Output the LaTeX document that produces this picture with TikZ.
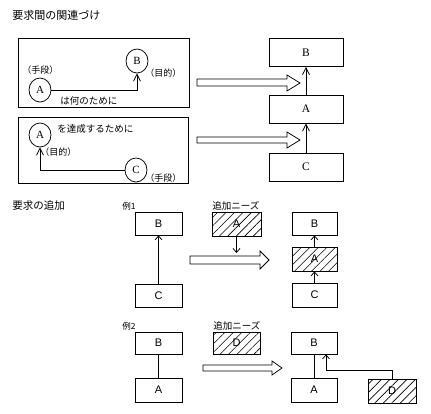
\documentclass[tikz,border=0pt]{standalone}
\usepackage{fontspec}
\setmainfont{Liberation Sans}
\newfontfamily\jp{Noto Sans CJK JP}
\newfontfamily\serifl{Liberation Serif}
\usetikzlibrary{arrows.meta,shapes.geometric,patterns.meta}
\begin{document}
\begin{tikzpicture}[x=1pt,y=-1pt,line width=0.75pt,
  circ/.style={draw,ellipse,minimum width=22pt,minimum height=24pt,inner sep=0pt,font=\serifl\fontsize{11}{11}\selectfont},
  rbox/.style={draw,minimum width=74pt,minimum height=28pt,inner sep=0pt,font=\serifl\fontsize{11.5}{11.5}\selectfont},
  sbox/.style={draw,minimum width=47pt,minimum height=23pt,inner sep=0pt,font=\fontsize{11}{11}\selectfont},
  hatch/.style={sbox,pattern={Lines[angle=45,distance=6pt,line width=0.6pt]}},
  jtext/.style={inner sep=0pt,anchor=west,font=\jp\fontsize{9.5}{11}\selectfont},
  jhead/.style={inner sep=0pt,anchor=west,font=\jp\fontsize{11}{12}\selectfont},
  jsmall/.style={inner sep=0pt,anchor=west,font=\jp\fontsize{9}{10}\selectfont},
  arr/.style={-{Straight Barb[length=7pt,width=7pt]}},
  sarr/.style={-{Straight Barb[length=4pt,width=7pt]}},
  hollow/.style={draw,fill=white,line width=0.75pt}]
\useasboundingbox (0,0) rectangle (431,413);

% ---------- top section ----------
\node[jhead] (title1) at (12,15) {要求間の関連づけ};

\draw (18,38) rectangle (189,107);
\node[circ] (cB) at (137,61) {B};
\node[circ] (cA) at (40,90) {A};
\node[jsmall] (l1) at (22,70) {（手段）};
\node[jsmall] (l2) at (145,73) {（目的）};
\node[jtext] (l3) at (60,101) {は何のために};
\draw[arr] (cA.east) -| (cB.south);

\draw (18,117) rectangle (188,183);
\node[circ] (cA2) at (40,135) {A};
\node[circ] (cC) at (136,170) {C};
\node[jtext] (l4) at (57,129) {を達成するために};
\node[jsmall] (l5) at (40,152) {（目的）};
\node[jsmall] (l6) at (145,178) {（手段）};
\draw[arr] (cC.west) -| (cA2.south);

\draw[hollow] (197,79) -- (287,79) -- (287,75) -- (300,83) -- (287,91) -- (287,86) -- (197,86) -- cycle;
\draw[hollow] (197,137) -- (287,137) -- (287,132) -- (300,140) -- (287,148) -- (287,143) -- (197,143) -- cycle;

\node[rbox] (rB) at (306,52.5) {B};
\node[rbox] (rA) at (306,109) {A};
\node[rbox] (rC) at (306,167) {C};
\draw[arr] (rA.north) -- (rB.south);
\draw[arr] (rC.north) -- (rA.south);

% ---------- bottom section ----------
\node[jtext,font=\jp\fontsize{10.5}{12}\selectfont] (title2) at (12,205) {要求の追加};

% example 1
\node[jsmall,font=\jp\fontsize{8.5}{9}\selectfont] (ex1) at (122,206) {例1};
\node[sbox] (b1B) at (158.5,223.5) {B};
\node[sbox] (b1C) at (158.5,295.5) {C};
\draw[sarr] (b1C.north) -- (b1B.south);
\node[jtext,font=\jp\fontsize{9.5}{10}\selectfont] (n1) at (212,206) {追加ニーズ};
\node[hatch,minimum width=49pt,minimum height=24pt] (h1A) at (236.5,224) {A};
\coordinate (h1end) at (236.5,253);
\draw[sarr] (h1A.south) -- (h1end);
\draw[hollow] (190,256) -- (260,256) -- (260,251) -- (269,260) -- (260,269) -- (260,264) -- (190,264) -- cycle;
\node[sbox,minimum width=45pt] (r1B) at (314.5,223.5) {B};
\node[hatch,minimum width=45pt,minimum height=24pt] (r1A) at (314.5,259) {A};
\node[sbox,minimum width=45pt,minimum height=24pt] (r1C) at (314.5,295) {C};
\draw[sarr] (r1C.north) -- (r1A.south);
\draw[sarr] (r1A.north) -- (r1B.south);

% example 2
\node[jsmall,font=\jp\fontsize{8.5}{9}\selectfont] (ex2) at (122,326) {例2};
\node[sbox,minimum height=22pt] (b2B) at (158.5,343) {B};
\node[sbox,minimum height=24pt] (b2A) at (158.5,390) {A};
\draw (b2A.north) -- (b2B.south);
\node[jtext,font=\jp\fontsize{9.5}{10}\selectfont] (n2) at (213,326) {追加ニーズ};
\node[hatch,minimum height=22pt] (h2D) at (236.5,343) {D};
\draw[hollow] (203,365) -- (272,365) -- (272,361) -- (282,368) -- (272,375) -- (272,371) -- (203,371) -- cycle;
\node[sbox,minimum width=46pt,minimum height=22pt] (r2B) at (314,343) {B};
\node[sbox,minimum width=46pt,minimum height=24pt] (r2A) at (314,390) {A};
\draw (r2A.north) -- (r2B.south);
\node[hatch,minimum width=48pt,minimum height=24pt] (r2D) at (392,391) {D};
\draw[sarr] (r2D.north) -- ++(0,-8) -| ([xshift=12pt]r2B.south);
\end{tikzpicture}
\end{document}
